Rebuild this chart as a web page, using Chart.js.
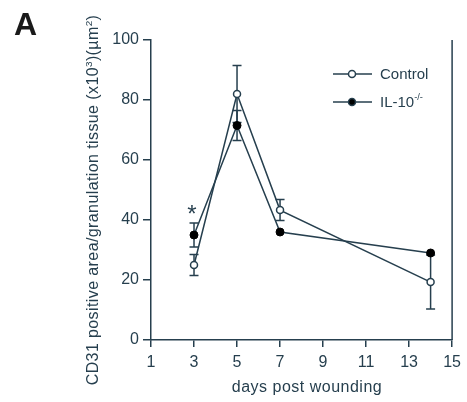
<!DOCTYPE html>
<html>
<head>
<meta charset="utf-8">
<script src="https://cdn.jsdelivr.net/npm/chart.js@4"></script>
<style>
  html, body { margin: 0; padding: 0; background: #fff; }
  #wrap { width: 467px; height: 402px; }
</style>
</head>
<body>
<div id="wrap"><canvas id="chart" width="467" height="402"></canvas></div>
<script>
// datos
const days = [3, 5, 7, 14];
const control = [25, 82, 43.3, 19.3];
const controlErr = [3.5, 9.5, 3.5, 9];
const il10 = [35, 71.5, 36, 29];
const il10Err = [4, 5, 0, 0];
const xTicks = [1, 3, 5, 7, 9, 11, 13, 15];
const yTicks = [0, 20, 40, 60, 80, 100];
const starDays = [3];
const starValues = [44];

const ink = '#263f4e';
const font = '"Liberation Sans", Arial, sans-serif';

//------barras de error (debajo de los puntos)
const errorBars = {
    id: 'errorBars',
    beforeDatasetsDraw(chart) {
        const { ctx, scales: { x, y } } = chart;
        const series = [[control, controlErr], [il10, il10Err]];
        ctx.save();
        ctx.strokeStyle = ink;
        ctx.lineWidth = 1.5;
        series.forEach(([vals, errs]) => {
            days.forEach((d, i) => {
                if (!errs[i]) return;
                const px = x.getPixelForValue(d);
                const top = y.getPixelForValue(vals[i] + errs[i]);
                const bot = y.getPixelForValue(vals[i] - errs[i]);
                ctx.beginPath();
                ctx.moveTo(px, top); ctx.lineTo(px, bot);
                ctx.moveTo(px - 4.5, top); ctx.lineTo(px + 4.5, top);
                ctx.moveTo(px - 4.5, bot); ctx.lineTo(px + 4.5, bot);
                ctx.stroke();
            });
        });
        ctx.restore();
    }
};

// texto con superindices: [texto, esSup]
function richWidth(ctx, parts, size) {
    let w = 0;
    parts.forEach(([t, sup]) => {
        ctx.font = (sup ? size * 0.62 : size) + 'px ' + font;
        w += ctx.measureText(t).width;
    });
    return w;
}
function drawRich(ctx, parts, x0, y0, size) {
    let xx = x0;
    parts.forEach(([t, sup]) => {
        ctx.font = (sup ? size * 0.62 : size) + 'px ' + font;
        ctx.fillText(t, xx, sup ? y0 - size * 0.4 : y0);
        xx += ctx.measureText(t).width;
    });
}

//------decoracion: titulos, leyenda, borde derecho, letra A, asterisco
const extras = {
    id: 'extras',
    afterDraw(chart) {
        const { ctx, chartArea: { left, right, top, bottom }, scales: { x, y } } = chart;
        ctx.save();
        ctx.fillStyle = ink;
        ctx.strokeStyle = ink;
        // borde derecho
        ctx.lineWidth = 1.5;
        ctx.beginPath();
        ctx.moveTo(right, top); ctx.lineTo(right, bottom);
        ctx.stroke();
        // letra A
        ctx.fillStyle = '#1a1a1a';
        ctx.font = 'bold 32px ' + font;
        ctx.textBaseline = 'alphabetic';
        ctx.fillText('A', 14, 35);
        ctx.fillStyle = ink;
        // titulo eje y
        const yTitle = [['CD31 positive area/granulation tissue (x10', false], ['3', true], [')(\u00b5m', false], ['2', true], [')', false]];
        ctx.save();
        ctx.letterSpacing = '0.4px';
        ctx.translate(98, 200);
        ctx.rotate(-Math.PI / 2);
        const w = richWidth(ctx, yTitle, 16);
        drawRich(ctx, yTitle, -w / 2, 0, 16);
        ctx.restore();
        // titulo eje x
        ctx.save();
        ctx.letterSpacing = '0.5px';
        ctx.font = '16px ' + font;
        ctx.textAlign = 'center';
        ctx.textBaseline = 'middle';
        ctx.fillText('days post wounding', 307, 388);
        ctx.restore();
        // asterisco
        ctx.font = '24px ' + font;
        ctx.textAlign = 'center';
        ctx.textBaseline = 'alphabetic';
        starDays.forEach((d, i) => {
            ctx.fillText('*', x.getPixelForValue(d) - 2, y.getPixelForValue(starValues[i]) + 14);
        });
        ctx.textAlign = 'left';
        // leyenda
        const rows = [
            { y: 74, fill: '#fff', parts: [['Control', false]] },
            { y: 102, fill: '#000', parts: [['IL-10', false], ['-/-', true]] }
        ];
        rows.forEach(r => {
            ctx.lineWidth = 1.5;
            ctx.beginPath();
            ctx.moveTo(333, r.y); ctx.lineTo(372, r.y);
            ctx.stroke();
            ctx.beginPath();
            ctx.arc(352, r.y, 3.5, 0, Math.PI * 2);
            ctx.fillStyle = r.fill;
            ctx.fill();
            ctx.stroke();
            ctx.fillStyle = ink;
            ctx.textBaseline = 'middle';
            drawRich(ctx, r.parts, 380, r.y + 1, 15);
        });
        ctx.restore();
    }
};

const data = {
    datasets: [{
        label: 'Control',
        data: days.map((d, i) => ({ x: d, y: control[i] })),
        borderColor: ink,
        borderWidth: 1.5,
        pointRadius: 3.5,
        pointBackgroundColor: '#fff',
        pointBorderColor: ink,
        pointBorderWidth: 1.5,
        tension: 0
    }, {
        label: 'IL-10-/-',
        data: days.map((d, i) => ({ x: d, y: il10[i] })),
        borderColor: ink,
        borderWidth: 1.5,
        pointRadius: 4,
        pointBackgroundColor: '#000',
        pointBorderColor: '#000',
        pointBorderWidth: 1,
        tension: 0
    }]
};

const config = {
    type: 'line',
    data,
    options: {
        responsive: false,
        animation: false,
        layout: { padding: { top: 40, right: 12, bottom: 0, left: 0 } },
        plugins: { legend: { display: false }, tooltip: { enabled: false } },
        scales: {
            x: {
                type: 'linear',
                min: 1, max: 15,
                afterBuildTicks: s => { s.ticks = xTicks.map(v => ({ value: v })); },
                afterFit: s => { s.height = 62; },
                grid: { drawOnChartArea: false, drawTicks: true, tickLength: 7, color: ink, lineWidth: 1.5 },
                border: { color: ink, width: 1.5 },
                ticks: { color: ink, font: { family: font, size: 16 }, padding: 6 }
            },
            y: {
                min: 0, max: 100,
                afterBuildTicks: s => { s.ticks = yTicks.map(v => ({ value: v })); },
                afterFit: s => { s.width = 151; },
                grid: { drawOnChartArea: false, drawTicks: true, tickLength: 8, color: ink, lineWidth: 1.5 },
                border: { color: ink, width: 1.5 },
                ticks: { color: ink, font: { family: font, size: 16 }, padding: 4 }
            }
        }
    },
    plugins: [errorBars, extras]
};

var myChart = new Chart(document.getElementById('chart'), config);
</script>
</body>
</html>
